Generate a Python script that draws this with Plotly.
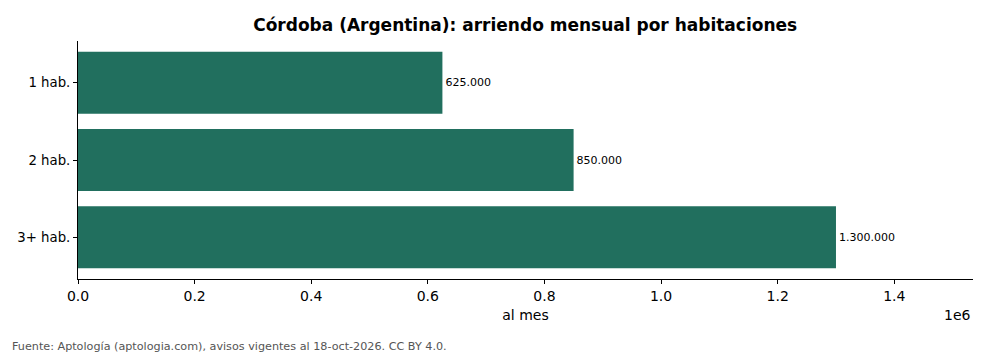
import plotly.graph_objects as go

categories = ["1 hab.", "2 hab.", "3+ hab."]
values = [625000, 850000, 1300000]
tick_vals = [0, 200000, 400000, 600000, 800000, 1000000, 1200000, 1400000]
tick_text = ["0.0", "0.2", "0.4", "0.6", "0.8", "1.0", "1.2", "1.4"]
labels = [f"{v:,}".replace(",", ".") for v in values]

FONT = "DejaVu Sans"
fig = go.Figure(go.Bar(
    x=values, y=categories, orientation="h",
    marker=dict(color="#216f5e", line=dict(width=0)),
    width=0.8,
    text=labels, textposition="outside", cliponaxis=False,
    textfont=dict(family=FONT, size=11, color="black"),
    constraintext="none",
))

fig.update_layout(
    width=990, height=352,
    margin=dict(l=78, r=17, t=41, b=73),
    paper_bgcolor="white", plot_bgcolor="white",
    showlegend=False,
    font=dict(family=FONT, color="black"),
    title=dict(text="<b>Córdoba (Argentina): arriendo mensual por habitaciones</b>",
               x=0.5305, xanchor="center", y=0.93, yanchor="middle",
               font=dict(family=FONT, size=17, color="black")),
    xaxis=dict(range=[0, 1535000], tickvals=tick_vals, ticktext=tick_text,
               showgrid=False, zeroline=False, showline=True, linecolor="black",
               linewidth=1, ticks="outside", ticklen=4, tickcolor="black",
               tickfont=dict(family=FONT, size=14, color="black"),
               title=dict(text="al mes", font=dict(family=FONT, size=14), standoff=7)),
    yaxis=dict(categoryorder="array", categoryarray=categories, autorange=False,
               range=[2.54, -0.54],
               showgrid=False, zeroline=False, showline=True, linecolor="black",
               linewidth=1, ticks="outside", ticklen=4, tickcolor="black",
               tickfont=dict(family=FONT, size=13.3, color="black")),
    annotations=[
        dict(text="1e6", xref="paper", yref="paper", x=1.0, y=-0.11,
             xanchor="right", yanchor="top", showarrow=False,
             font=dict(family=FONT, size=14, color="black")),
        dict(text="Fuente: Aptología (aptologia.com), avisos vigentes al 18-oct-2026. CC BY 4.0.",
             xref="paper", yref="paper", x=-78/895 + 10/895, y=-(346-279)/238,
             xanchor="left", yanchor="middle", showarrow=False,
             font=dict(family=FONT, size=11.2, color="#555555")),
    ],
)

fig.write_html("out.html")
